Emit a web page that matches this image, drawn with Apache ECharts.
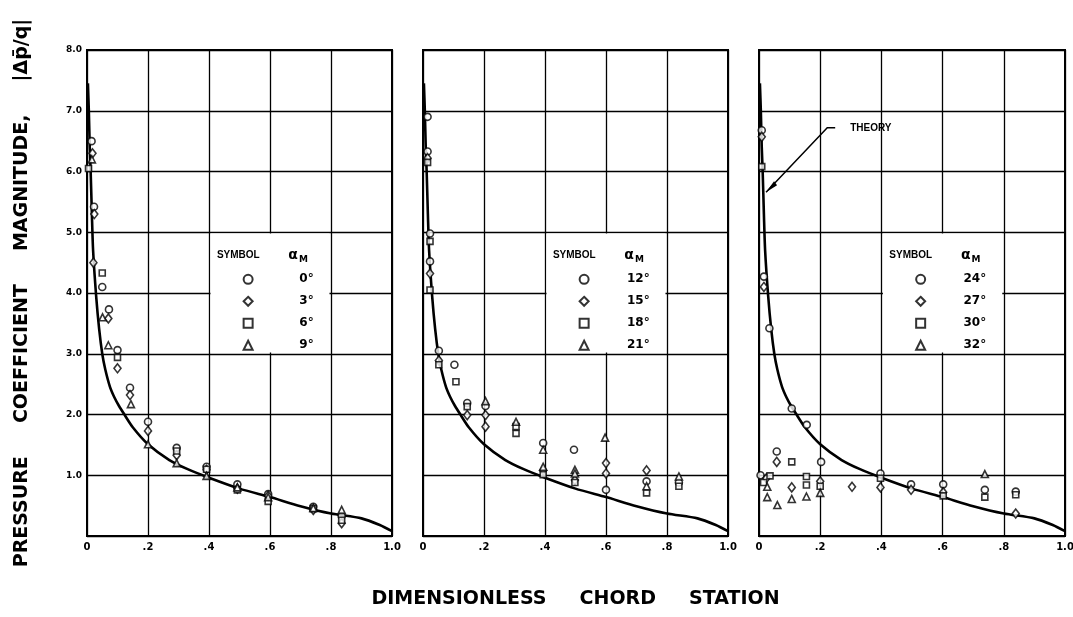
<!DOCTYPE html>
<html>
<head>
<meta charset="utf-8">
<script src="https://cdn.jsdelivr.net/npm/echarts@6/dist/echarts.min.js"></script>
<style>html,body{margin:0;padding:0;background:#fff}#c{width:1073px;height:617px}</style>
</head>
<body>
<div id="c"></div>
<script>
// ---------- data ----------
const xTickLabels = ['0', '.2', '.4', '.6', '.8', '1.0'];
const yTickLabels = ['0', '1.0', '2.0', '3.0', '4.0', '5.0', '6.0', '7.0', '8.0'];

const theoryX = [0.003, 0.006, 0.009, 0.012, 0.016, 0.02, 0.03, 0.04, 0.05, 0.06, 0.075, 0.09, 0.105, 0.12, 0.15, 0.2, 0.27, 0.33, 0.4, 0.5, 0.6, 0.7, 0.8, 0.9, 0.96, 1.0];
const theoryY = [7.45, 7.0, 6.4, 6.0, 5.3, 4.7, 3.95, 3.4, 3.0, 2.74, 2.46, 2.28, 2.14, 2.02, 1.79, 1.51, 1.25, 1.1, 0.96, 0.78, 0.64, 0.49, 0.37, 0.29, 0.18, 0.08];

// panel 1
const a0  = [[0.015,6.5],[0.023,5.42],[0.05,4.1],[0.072,3.73],[0.1,3.06],[0.141,2.44],[0.2,1.88],[0.294,1.45],[0.392,1.14],[0.493,0.85],[0.594,0.69],[0.742,0.48],[0.835,0.33]];
const a3  = [[0.018,6.3],[0.024,5.3],[0.021,4.5],[0.07,3.58],[0.1,2.76],[0.141,2.32],[0.2,1.73],[0.294,1.33],[0.392,1.09],[0.493,0.78],[0.594,0.66],[0.742,0.43],[0.835,0.21]];
const a6  = [[0.005,6.05],[0.05,4.33],[0.1,2.94],[0.294,1.4],[0.392,1.1],[0.493,0.76],[0.594,0.57],[0.742,0.45],[0.835,0.26]];
const a9  = [[0.016,6.2],[0.051,3.6],[0.07,3.14],[0.144,2.17],[0.2,1.51],[0.294,1.2],[0.392,0.99],[0.493,0.8],[0.594,0.64],[0.742,0.46],[0.835,0.43]];
// panel 2
const a12 = [[0.015,6.9],[0.015,6.33],[0.023,4.98],[0.023,4.52],[0.052,3.05],[0.103,2.82],[0.145,2.19],[0.205,2.14],[0.394,1.53],[0.495,1.42],[0.6,0.76],[0.733,0.9],[0.839,0.88]];
const a15 = [[0.015,6.22],[0.023,4.32],[0.052,2.89],[0.145,1.99],[0.205,1.99],[0.205,1.8],[0.394,1.08],[0.498,0.92],[0.6,1.2],[0.6,1.03],[0.733,1.08]];
const a18 = [[0.015,6.15],[0.023,4.85],[0.023,4.05],[0.052,2.82],[0.108,2.54],[0.145,2.13],[0.305,1.69],[0.305,1.8],[0.394,1.01],[0.498,0.88],[0.733,0.71],[0.839,0.82]];
const a21 = [[0.205,2.22],[0.305,1.88],[0.394,1.42],[0.394,1.14],[0.498,1.09],[0.498,1.03],[0.597,1.62],[0.733,0.82],[0.839,0.98]];
// panel 3
const a24 = [[0.009,6.68],[0.016,4.27],[0.034,3.42],[0.107,2.1],[0.156,1.83],[0.058,1.39],[0.203,1.22],[0.005,1.0],[0.397,1.03],[0.497,0.85],[0.602,0.85],[0.738,0.76],[0.839,0.73]];
const a27 = [[0.009,6.57],[0.016,4.1],[0.024,0.95],[0.058,1.22],[0.107,0.8],[0.2,0.9],[0.304,0.81],[0.397,0.8],[0.497,0.76],[0.602,0.72],[0.839,0.37]];
const a30 = [[0.009,6.08],[0.107,1.22],[0.036,0.99],[0.015,0.88],[0.155,0.98],[0.155,0.84],[0.2,0.82],[0.397,0.95],[0.602,0.66],[0.738,0.64],[0.839,0.68]];
const a32 = [[0.027,0.81],[0.027,0.64],[0.06,0.51],[0.107,0.61],[0.155,0.65],[0.2,0.71],[0.738,1.02]];

const panelNames = [['0°','3°','6°','9°'], ['12°','15°','18°','21°'], ['24°','27°','30°','32°']];
const panelData = [[a0,a3,a6,a9],[a12,a15,a18,a21],[a24,a27,a30,a32]];

// ---------- layout ----------
const G = [{left:87,top:50,width:305,height:486},{left:423,top:50,width:305,height:486},{left:759,top:50,width:306,height:486}];
const symbols = ['circle','diamond','rect','triangle'];
const symSizes = [7,[7,9],6,7];
const FONT = 'DejaVu Sans';
function px(i, x, y){ return [G[i].left + x*G[i].width, G[i].top + G[i].height*(1 - y/8)]; }

const theory = theoryX.map((x,k)=>[x, theoryY[k]]);

const series = [];
const legends = [];
const graphics = [];
for (let i=0;i<3;i++){
  series.push({type:'line', xAxisIndex:i, yAxisIndex:i, data:theory, showSymbol:false, smooth:0.25,
    lineStyle:{color:'#000', width:2.6}, z:3, silent:true});
  for (let k=0;k<4;k++){
    series.push({type:'scatter', name:panelNames[i][k], xAxisIndex:i, yAxisIndex:i, data:panelData[i][k],
      symbol:symbols[k], symbolSize:symSizes[k], z:5,
      itemStyle:{color:'#fff', borderColor:'#000', borderWidth:1.6}});
  }
  // white legend area covering grid lines
  series.push({type:'line', xAxisIndex:i, yAxisIndex:i, data:[], silent:true,
    markArea:{silent:true, itemStyle:{color:'#fff', opacity:1}, data:[[{coord:[0.405,4.98]},{coord:[0.795,3.02]}]]}});
  const lp = px(i, 0.525, 4.25);
  legends.push({data:panelNames[i], orient:'vertical', left:lp[0]-4.5, top:lp[1]-4.5, padding:0,
    itemWidth:9, itemHeight:9, itemGap:10, selectedMode:false, z:20,
    formatter: n => '{v|' + n + '}',
    textStyle:{rich:{v:{width:56, align:'right', fontFamily:FONT, fontSize:12, fontWeight:'bold', color:'#000'}}}});
  const hp = px(i, 0.426, 4.62);
  graphics.push({type:'text', x:hp[0], y:hp[1], z:100, style:{text:'SYMBOL', font:'bold 10px "Liberation Sans"', fill:'#000', textVerticalAlign:'middle'}});
  const ap = px(i, 0.66, 4.62);
  graphics.push({type:'text', x:ap[0], y:ap[1], z:100, style:{text:'{a|α}{m|M}', fill:'#000', textVerticalAlign:'middle',
    rich:{a:{fontFamily:FONT, fontSize:14, fontWeight:'bold', fill:'#000'}, m:{fontFamily:FONT, fontSize:9, fontWeight:'bold', fill:'#000', padding:[8,0,0,1]}}}});
}
// THEORY annotation (panel 3)
const tip = px(2, 0.023, 5.66), bend = px(2, 0.223, 6.72), endp = px(2, 0.249, 6.72), tp = px(2, 0.298, 6.72);
graphics.push({type:'polyline', z:100, shape:{points:[tip, bend, endp]}, style:{stroke:'#000', lineWidth:1.5, fill:null}});
graphics.push({type:'polygon', z:100, shape:{points:[tip, [tip[0]+8, tip[1]-11], [tip[0]+11, tip[1]-7]]}, style:{fill:'#000'}});
graphics.push({type:'text', z:100, x:tp[0], y:tp[1], style:{text:'THEORY', font:'bold 10px "Liberation Sans"', fill:'#000', textVerticalAlign:'middle'}});

function xAxis(i){
  return {gridIndex:i, type:'value', min:0, max:1, interval:0.2,
    axisLine:{show:true, onZero:false, lineStyle:{color:'#000', width:2}}, axisTick:{show:false},
    axisLabel:{margin:6, fontFamily:FONT, fontSize:10, fontWeight:'bold', color:'#000', formatter:(v)=>xTickLabels[Math.round(v*5)]},
    splitLine:{show:true, lineStyle:{color:'#000', width:1.3}},
    name: i===1 ? 'DIMENSIONLESS     CHORD     STATION' : '', nameLocation:'middle', nameGap:54,
    nameTextStyle:{fontFamily:FONT, fontSize:19, fontWeight:'bold', color:'#000'}};
}
function yAxis(i){
  return {gridIndex:i, type:'value', min:0, max:8, interval:1,
    axisLine:{show:true, lineStyle:{color:'#000', width:2}}, axisTick:{show:false},
    axisLabel:{show:i===0, margin:5, fontFamily:FONT, fontSize:9, fontWeight:'bold', color:'#000', formatter:(v)=> v===0 ? '' : yTickLabels[Math.round(v)]},
    splitLine:{show:true, lineStyle:{color:'#000', width:1.3}},
    name: i===0 ? 'PRESSURE     COEFFICIENT     MAGNITUDE,     |Δp̄/q|' : '', nameLocation:'middle', nameGap:55, nameRotate:90,
    nameTextStyle:{fontFamily:FONT, fontSize:19, fontWeight:'bold', color:'#000'}};
}

const chart = echarts.init(document.getElementById('c'), null, {renderer:'canvas'});
chart.setOption({
  backgroundColor:'#fff',
  animation:false,
  grid: G.map(g => Object.assign({show:true, borderColor:'#000', borderWidth:2, backgroundColor:'transparent', containLabel:false, outerBoundsMode:'none'}, g)),
  xAxis:[0,1,2].map(xAxis),
  yAxis:[0,1,2].map(yAxis),
  legend: legends,
  series: series,
  graphic: graphics
});
</script>
</body>
</html>
